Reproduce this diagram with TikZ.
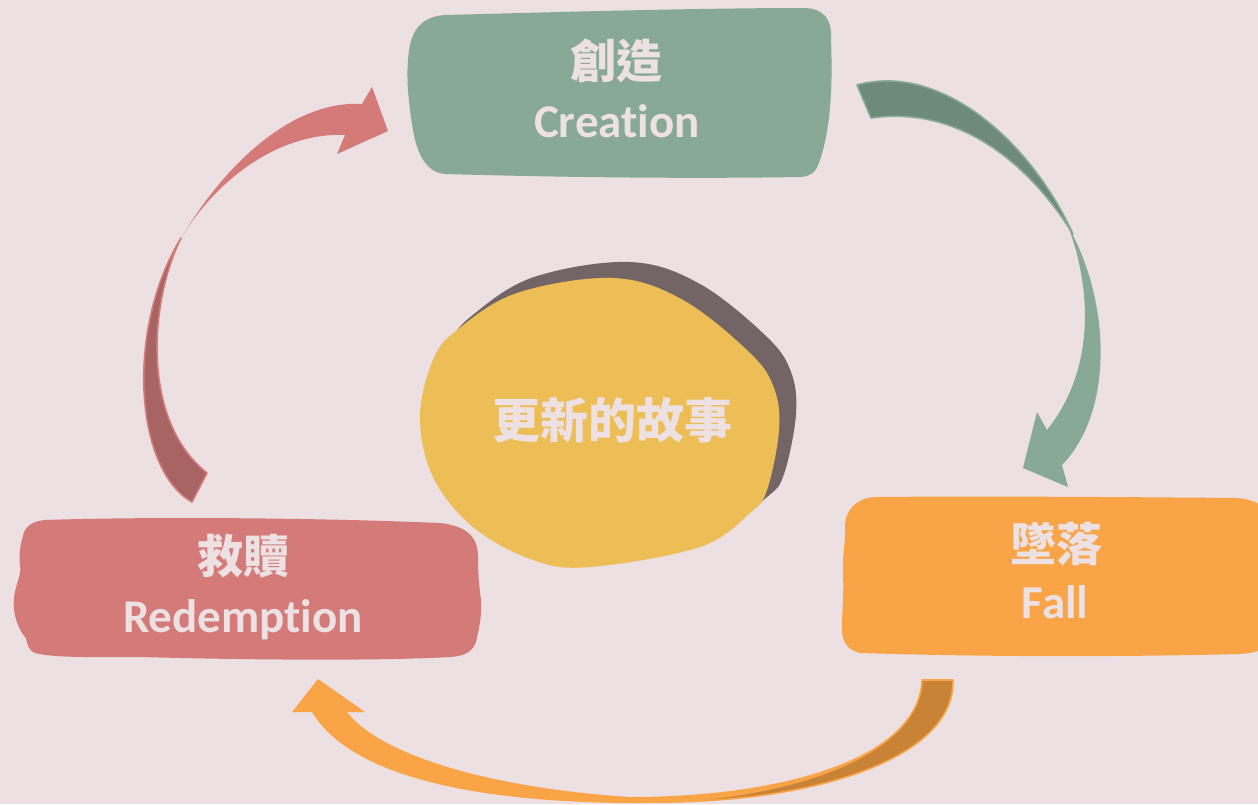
\documentclass[tikz,border=0pt]{standalone}
\usepackage{fontspec}
\setmainfont{Carlito}[Ligatures={NoCommon}]
\newfontfamily\cjk{Noto Sans CJK TC}
\definecolor{bgc}{HTML}{ECE0E2}
\definecolor{txtc}{HTML}{EDE1E3}
\definecolor{greenc}{HTML}{88A996}
\definecolor{greendk}{HTML}{6E8B79}
\definecolor{orangec}{HTML}{F9A446}
\definecolor{orangedk}{HTML}{C98336}
\definecolor{redc}{HTML}{D47B7A}
\definecolor{reddk}{HTML}{A86462}
\definecolor{yellowc}{HTML}{EDBE56}
\definecolor{shadowc}{HTML}{736565}
\tikzset{
  zhlabel/.style={text=txtc, font=\cjk\bfseries\fontsize{46}{50}\selectfont, inner sep=0pt, anchor=center},
  enlabel/.style={text=txtc, font=\bfseries\fontsize{47}{52}\selectfont, inner sep=0pt, anchor=base},
  midlabel/.style={text=txtc, font=\cjk\bfseries\fontsize{48}{52}\selectfont, inner sep=0pt, anchor=center},
  tailpiece/.style={line width=1.6pt, line join=round}
}
\begin{document}
\begin{tikzpicture}[x=1pt,y=-1pt]
\fill[bgc] (0,0) rectangle (1258,804);
\useasboundingbox (0,0) rectangle (1258,804);

% ---- Creation box
\fill[greenc] (445,15) .. controls (560,12) and (700,8) .. (805,8)
  .. controls (825,9) and (832,20) .. (831,40)
  .. controls (833,90) and (830,130) .. (820,160)
  .. controls (816,172) and (812,176) .. (800,177)
  .. controls (680,179) and (550,177) .. (445,174)
  .. controls (430,173) and (418,160) .. (413,130)
  .. controls (408,100) and (405,70) .. (410,45)
  .. controls (415,22) and (430,16) .. (445,15) -- cycle;

% ---- Fall box
\fill[orangec] (875,497) .. controls (980,496) and (1120,497) .. (1237,498)
  .. controls (1250,499) and (1256,502) .. (1260,505)
  -- (1260,650)
  .. controls (1254,653) and (1248,653) .. (1240,654)
  .. controls (1120,657) and (990,657) .. (860,653)
  .. controls (848,650) and (842,642) .. (842,630)
  .. controls (842,610) and (844,595) .. (843,575)
  .. controls (842,555) and (846,540) .. (845,525)
  .. controls (846,508) and (858,498) .. (875,497) -- cycle;

% ---- Redemption box
\fill[redc] (45,520) .. controls (130,517) and (300,517) .. (440,523)
  .. controls (465,526) and (477,535) .. (478,555)
  .. controls (478,575) and (479,585) .. (481,600)
  .. controls (482,620) and (478,632) .. (476,642)
  .. controls (472,652) and (465,656) .. (450,657)
  .. controls (380,661) and (250,660) .. (140,657)
  .. controls (90,657) and (55,658) .. (35,653)
  .. controls (28,650) and (27,643) .. (26,638)
  .. controls (18,630) and (12,612) .. (14,598)
  .. controls (15,585) and (22,575) .. (20,565)
  .. controls (18,552) and (22,540) .. (24,532)
  .. controls (28,524) and (35,521) .. (45,520) -- cycle;

% ---- Centre blob (shadow + yellow)
\fill[shadowc, xshift=17pt, yshift=16pt] plot[smooth cycle, tension=0.6] coordinates {
  (420,417) (433,360) (457,330) (517,293) (613,278) (683,300) (750,353)
  (774,388) (779,430) (767,490) (750,513) (700,547) (590,567) (533,560)
  (473,527) (433,477)};
\fill[yellowc] plot[smooth cycle, tension=0.6] coordinates {
  (420,417) (433,360) (457,330) (517,293) (613,278) (683,300) (750,353)
  (774,388) (779,430) (767,490) (750,513) (700,547) (590,567) (533,560)
  (473,527) (433,477)};

% ---- Green arrow (Creation -> Fall)
\fill[greenc] (1068,226) .. controls (1110,300) and (1115,410) .. (1062,465)
  -- (1068,487) -- (1023,468) -- (1037,412) -- (1047,430)
  .. controls (1095,370) and (1092,290) .. (1068,226) -- cycle;
\filldraw[fill=greendk, draw=greenc, tailpiece] (857,85)
  .. controls (940,62) and (1030,140) .. (1073,234)
  .. controls (1030,165) and (960,105) .. (871,118) -- cycle;

% ---- Orange arrow (Fall -> Redemption)
\fill[orangec] (953,680) .. controls (955,760) and (800,804) .. (630,803)
  .. controls (470,802) and (350,775) .. (312,712)
  -- (292,712) -- (318,679) -- (365,712) -- (347,712)
  .. controls (380,755) and (490,788) .. (630,797)
  .. controls (790,797) and (920,755) .. (922,680) -- cycle;
\filldraw[fill=orangedk, draw=orangec, tailpiece] (922,680) -- (953,680)
  .. controls (955,760) and (810,802) .. (660,802)
  .. controls (790,798) and (920,755) .. (922,680) -- cycle;

% ---- Red arrow (Redemption -> Creation)
\fill[redc] (180,240) .. controls (222,168) and (290,100) .. (362,104)
  -- (372,87) -- (388,131) -- (337,154) -- (345,135)
  .. controls (275,132) and (212,185) .. (180,240) -- cycle;
\filldraw[fill=reddk, draw=redc, tailpiece] (192,502)
  .. controls (135,470) and (125,330) .. (181,238)
  .. controls (150,300) and (140,420) .. (207,473) -- cycle;

% ---- Labels
\node[zhlabel] (creZh) at (616,61) {創造};
\node[enlabel] (creEn) at (617,137) {Creation};
\node[zhlabel] (fallZh) at (1056,544) {墜落};
\node[enlabel] (fallEn) at (1055,618) {Fall};
\node[zhlabel] (redZh) at (243,556) {救贖};
\node[enlabel] (redEn) at (243,632) {Redemption};
\node[midlabel] (mid) at (612,420) {更新的故事};
\end{tikzpicture}
\end{document}
